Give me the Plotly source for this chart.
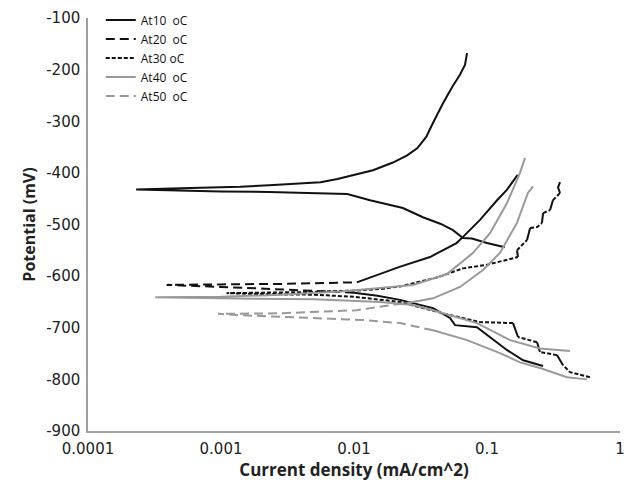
import math
import plotly.graph_objects as go

# ---------------- data ----------------
# each series runs from the cathodic end, through the corrosion point, to the anodic end
series_names = ["At10  oC", "At20  oC", "At30 oC", "At40  oC", "At50  oC"]

x_10 = [0.136, 0.100, 0.077, 0.066, 0.0555, 0.045, 0.033, 0.0233, 0.0132, 0.0089, 0.0045, 0.0023, 0.0010, 0.0005, 0.00023,
        0.0005, 0.0014, 0.0023, 0.0044, 0.0056, 0.0075, 0.0098, 0.0139, 0.0196, 0.0251, 0.030, 0.035, 0.0393, 0.0467, 0.0546, 0.0626, 0.0683, 0.0708]
y_10 = [-544, -536, -527, -526, -511, -499, -486, -468, -453, -441, -439, -437, -436, -434, -432,
        -430, -427, -424, -420, -418, -412, -404, -395, -380, -366, -352, -330, -303, -265, -234, -210, -191, -168]

x_20 = [0.264, 0.187, 0.141, 0.105, 0.084, 0.0575, 0.0527, 0.0393, 0.0222, 0.015, 0.010, 0.005, 0.002, 0.001, 0.00039,
        0.001, 0.003, 0.0105, 0.0157, 0.022, 0.0373, 0.059, 0.066, 0.0886, 0.119, 0.141, 0.170]
y_20 = [-774, -763, -743, -718, -699, -695, -681, -662, -646, -638, -632, -628, -624, -621, -617,
        -616, -615, -612, -596, -582, -563, -536, -524, -491, -453, -433, -404]

x_30 = [0.594, 0.527, 0.421, 0.372, 0.336, 0.250, 0.238, 0.171, 0.157, 0.0886, 0.0465, 0.0222, 0.010, 0.005, 0.0022, 0.0011,
        0.004, 0.010, 0.0157, 0.0222, 0.043, 0.066, 0.100, 0.150, 0.171, 0.168, 0.200, 0.211, 0.238, 0.259, 0.264, 0.298, 0.313, 0.354, 0.342, 0.354]
y_30 = [-796, -792, -786, -772, -753, -747, -728, -718, -691, -689, -672, -650, -640, -636, -635, -633,
        -631, -628, -625, -620, -602, -585, -578, -566, -563, -550, -530, -507, -505, -497, -478, -472, -453, -439, -428, -418]

x_40 = [0.42, 0.25, 0.149, 0.084, 0.0393, 0.0278, 0.0157, 0.005, 0.001, 0.00032,
        0.001, 0.0028, 0.008, 0.0157, 0.0278, 0.050, 0.0785, 0.1054, 0.141, 0.177, 0.193]
y_40 = [-745, -740, -724, -691, -666, -656, -650, -645, -643, -641,
        -640, -636, -630, -623, -617, -596, -555, -517, -459, -400, -371]

x_50 = [0.565, 0.40, 0.25, 0.177, 0.125, 0.0708, 0.0393, 0.0222, 0.0117, 0.0028, 0.0015, 0.00095,
        0.0028, 0.0105, 0.0185, 0.0278, 0.0393, 0.0627, 0.0933, 0.125, 0.168, 0.203, 0.222]
y_50 = [-800, -796, -778, -767, -749, -724, -705, -691, -685, -679, -676, -673,
        -672, -666, -656, -650, -643, -621, -588, -555, -497, -439, -426]

x_ticks = [0.0001, 0.001, 0.01, 0.1, 1]
x_tick_text = ["0.0001", "0.001", "0.01", "0.1", "1"]
y_ticks = [-900, -800, -700, -600, -500, -400, -300, -200, -100]
y_tick_text = ["-900", "-800", "-700", "-600", "-500", "-400", "-300", "-200", "-100"]

# ---------------- styles ----------------
BLACK = "#111111"
GRAY = "#999999"
styles = [
    dict(color=BLACK, dash="solid", solid_beyond=0.0),
    dict(color=BLACK, dash="9px,5px", solid_beyond=0.012),
    dict(color=BLACK, dash="4px,2px", solid_beyond=10.0),
    dict(color=GRAY, dash="solid", solid_beyond=0.0),
    dict(color=GRAY, dash="9px,5px", solid_beyond=0.03),
]
all_x = [x_10, x_20, x_30, x_40, x_50]
all_y = [y_10, y_20, y_30, y_40, y_50]

PX_DEC = 133.0   # approx pixels per decade
PX_MV = 0.516    # approx pixels per mV

fig = go.Figure()

# legend carriers
for name, st in zip(series_names, styles):
    fig.add_trace(go.Scatter(x=[None], y=[None], mode="lines", name=name, legendgroup=name,
                             line=dict(color=st["color"], width=2, dash=st["dash"])))

# curves split into dashed (sparse data) and solid-looking (dense/steep data) pieces
for name, xs, ys, st in zip(series_names, all_x, all_y, styles):
    pieces = []
    cur_style = None
    cur = None
    for i in range(len(xs) - 1):
        dxp = abs(math.log10(xs[i + 1]) - math.log10(xs[i])) * PX_DEC
        dyp = abs(ys[i + 1] - ys[i]) * PX_MV
        xm = math.sqrt(xs[i] * xs[i + 1])
        solid = st["dash"] == "solid" or xm > st["solid_beyond"] or dyp > 1.5 * dxp
        s = "solid" if solid else st["dash"]
        if s != cur_style:
            if cur is not None:
                pieces.append((cur_style, cur))
            cur = ([xs[i]], [ys[i]])
            cur_style = s
        cur[0].append(xs[i + 1])
        cur[1].append(ys[i + 1])
    pieces.append((cur_style, cur))
    for s, (px_, py_) in pieces:
        fig.add_trace(go.Scatter(x=px_, y=py_, mode="lines", showlegend=False, legendgroup=name,
                                 hoverinfo="skip",
                                 line=dict(color=st["color"], width=2, dash=s)))

FONT = "Open Sans, Arial, sans-serif"
TICKFONT = dict(family="DejaVu Sans, Verdana, sans-serif", size=15, color="#222222")
fig.update_layout(
    width=619, height=474,
    margin=dict(l=80, r=7, t=10, b=51, autoexpand=False),
    paper_bgcolor="white", plot_bgcolor="white",
    font=dict(family=FONT, color="#222222", size=15),
    showlegend=True,
    legend=dict(x=0.024, y=1.03, xanchor="left", yanchor="top",
                font=dict(size=12, family=FONT, color="#111111"),
                bgcolor="rgba(0,0,0,0)", tracegroupgap=0, itemwidth=30),
    xaxis=dict(type="log", range=[-4, 0], tickvals=x_ticks, ticktext=x_tick_text, automargin=False,
               showgrid=False, zeroline=False, showline=True, linecolor="#a0a0a0", linewidth=1.5,
               ticks="", tickfont=TICKFONT, ticklabelstandoff=3,
               title=dict(text="<b>Current density (mA/cm^2)</b>", font=dict(size=17), standoff=2)),
    yaxis=dict(range=[-900, -100], tickvals=y_ticks, ticktext=y_tick_text, automargin=False,
               showgrid=False, zeroline=False, ticklabelstandoff=3,
               showline=True, linecolor="#a0a0a0", linewidth=1.5, ticks="", tickfont=TICKFONT,
               title=dict(text="<b>Potential (mV)</b>", font=dict(size=16), standoff=7)),
)

fig.write_html("out.html")
